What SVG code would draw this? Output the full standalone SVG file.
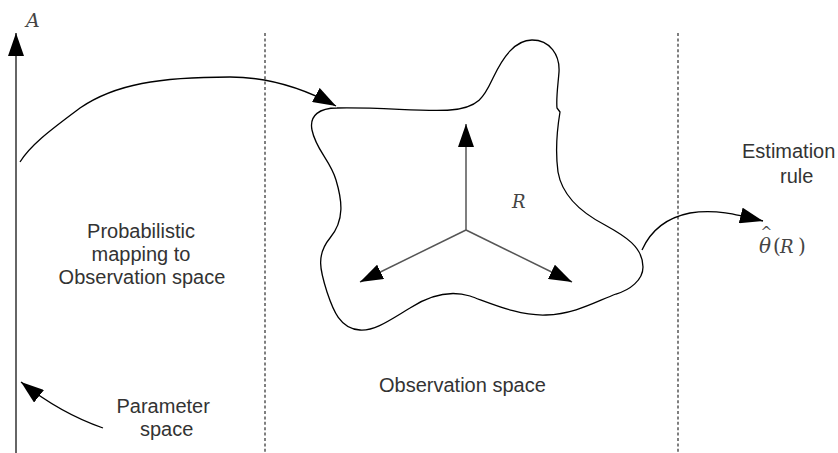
<svg xmlns="http://www.w3.org/2000/svg" width="838" height="453" viewBox="0 0 838 453">
<style>
.lbl{font-family:"Liberation Sans",Arial,sans-serif;font-size:20px;fill:#333}
.math{font-family:"DejaVu Serif","Liberation Serif",serif;font-style:italic;fill:#444}
.up{font-style:normal}
.curve{fill:none;stroke:#000;stroke-width:1.3}
.gray{fill:none;stroke:#555;stroke-width:1.5}
.dot{fill:none;stroke:#555;stroke-width:1.5;stroke-dasharray:3 2.4}
</style>
<defs>
<marker id="ah" viewBox="0 0 23 16" refX="23" refY="8" markerWidth="23" markerHeight="16" markerUnits="userSpaceOnUse" orient="auto">
<path d="M0,0 L23,8 L0,16 Z" fill="#000"/>
</marker>
</defs>
<g id="dividers">
<line class="dot" x1="265" y1="33" x2="265" y2="453"/>
<line class="dot" x1="678" y1="33" x2="678" y2="453"/>
</g>
<g id="parameter-space">
<line x1="16" y1="453" x2="16" y2="33" stroke="#666" stroke-width="2" marker-end="url(#ah)"/>
<text class="math" x="26" y="27" font-size="19">A</text>
<text class="lbl" x="116.5" y="413">Parameter</text>
<text class="lbl" x="140" y="436">space</text>
</g>
<g id="observation-space">
<path d="M337,108 C380,107 425,112 450,110 C480,108 485,95 493,78 C503,57 515,40 532,40 C550,40 560,55 559,72 C558,85 556,98 557,108 L560,112 C557,130 555,150 558,172 C562,195 580,212 605,225 C625,236 643,247 643,267 C643,280 630,290 616,294 C595,302 575,314 546,315 C520,316 495,305 470,296 C450,290 430,295 410,308 C390,320 375,331 360,330 C340,329 333,310 327,292 C320,270 316,255 330,238 C345,220 342,200 336,180 C330,160 316,150 312,130 C309,115 320,108 337,108 Z" fill="none" stroke="#000" stroke-width="1.3"/>
<text class="math" x="512" y="208" font-size="18">R</text>
<text class="lbl" x="379" y="392">Observation space</text>
</g>
<g id="mapping-label">
<text class="lbl" x="141" y="238" text-anchor="middle">Probabilistic</text>
<text class="lbl" x="141" y="261" text-anchor="middle">mapping to</text>
<text class="lbl" x="142" y="284" text-anchor="middle">Observation space</text>
</g>
<g id="estimation-rule">
<text class="lbl" x="742" y="158">Estimation</text>
<text class="lbl" x="780" y="183">rule</text>
<text class="math" x="759" y="253" font-size="20">θ<tspan class="up" x="773">(</tspan><tspan x="780" font-size="18">R</tspan><tspan class="up" x="798">)</tspan></text>
<text class="math up" x="760.5" y="237" font-size="14">^</text>
</g>
<g id="connectors">
<path class="curve" d="M20,162 C32,143 55,127 80,108 C115,84 160,77 230,77 C268,77 305,89 336,106" marker-end="url(#ah)"/>
<path class="curve" d="M642,250 C650,232 665,218 690,213 C715,209 735,214 763,221" marker-end="url(#ah)"/>
<path class="curve" d="M103,428 C80,420 50,405 21,382" marker-end="url(#ah)"/>
<line class="gray" x1="466" y1="230" x2="466" y2="124" marker-end="url(#ah)"/>
<line class="gray" x1="466" y1="230" x2="360" y2="282" marker-end="url(#ah)"/>
<line class="gray" x1="466" y1="230" x2="572" y2="282" marker-end="url(#ah)"/>
</g>
</svg>
